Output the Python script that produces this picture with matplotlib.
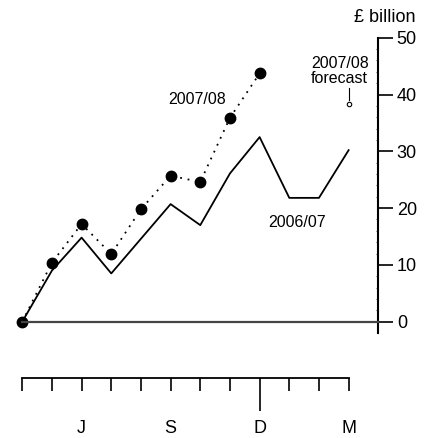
import matplotlib
matplotlib.use("Agg")
import matplotlib.pyplot as plt
import numpy as np

plt.rcParams['font.family'] = ['Liberation Sans', 'DejaVu Sans']

# monthly cumulative values, £ billion (April = index 0)
months_0607 = list(range(12))
values_0607 = [0, 9.0, 14.8, 8.5, 14.6, 20.7, 17.0, 26.1, 32.5, 21.8, 21.8, 30.2]
months_0708 = list(range(9))
values_0708 = [0, 10.4, 17.2, 11.9, 19.8, 25.7, 24.6, 35.9, 43.7]
forecast_month = 11
forecast_value = 38.3

y_ticks = [0, 10, 20, 30, 40, 50]
month_labels = ['', '', 'J', '', '', 'S', '', '', 'D', '', '', 'M']

W, H = 435, 438
fig = plt.figure(figsize=(W / 100, H / 100), dpi=100)

# main panel
ax = fig.add_axes([0, (H - 333.06) / H, 378.3 / W, (333.06 - 9.3) / H])
ax.set_xlim(-0.75, 12)
ax.set_ylim(-2, 55)

ax.plot(months_0607, values_0607, color='black', lw=1.3)
ax.plot(months_0708, values_0708, color='black', lw=1.3, ls=(0, (1, 3.2)),
        marker='o', ms=7.5, mfc='black', mec='black')
ax.plot([forecast_month, forecast_month], [39.1, 41.1], color='black', lw=0.8)
ax.plot([forecast_month], [forecast_value], marker='o', ms=3.2, mfc='white',
        mec='black', mew=0.8)

for s in ['top', 'left']:
    ax.spines[s].set_visible(False)
ax.spines['right'].set_position(('data', 12))
ax.spines['right'].set_bounds(-2, 50)
ax.spines['right'].set_linewidth(1.5)
ax.spines['bottom'].set_position(('data', 0))
ax.spines['bottom'].set_bounds(0, 12)
ax.spines['bottom'].set_linewidth(1.6)
ax.spines['bottom'].set_color('#444444')

ax.yaxis.tick_right()
ax.set_yticks(y_ticks)
ax.set_yticks(np.arange(0, 51, 2), minor=True)
ax.tick_params(axis='y', which='major', direction='out', length=10.8, width=1.2,
               pad=2.5, labelsize=13)
ax.tick_params(axis='y', which='minor', direction='in', length=1.6, width=0.8,
               color='#555555')
ax.set_xticks([])
ax.set_xticks([12 * k / 13 for k in range(1, 13)], minor=True)
ax.tick_params(axis='x', which='minor', direction='inout', length=2, width=1.2,
               color='black')

ax.text(5.89, 39.2, '2007/08', fontsize=11.5, ha='center', va='center')
ax.text(9.26, 17.4, '2006/07', fontsize=11.5, ha='center', va='center')
ax.text(10.7, 44.1, '2007/08\nforecast', fontsize=11.5, ha='center', va='center',
        linespacing=1.0)
fig.text(385 / W, 1 - 17 / H, '£ billion', fontsize=13, ha='center', va='center')

# month axis below
ax2 = fig.add_axes([0, (H - 377.7) / H - 0.001, 378.3 / W, 0.001])
ax2.set_xlim(-0.75, 12)
for s in ['top', 'left', 'right']:
    ax2.spines[s].set_visible(False)
ax2.spines['bottom'].set_bounds(0, 11)
ax2.spines['bottom'].set_linewidth(1.3)
ax2.set_yticks([])
ax2.set_xticks(range(12))
ax2.set_xticklabels(month_labels)
ax2.tick_params(axis='x', direction='out', length=9.4, width=1.2, pad=21,
                labelsize=13)
ax2.xaxis.get_major_ticks()[8].tick1line.set_markersize(23.5)

fig.savefig('out.png', dpi=100)
